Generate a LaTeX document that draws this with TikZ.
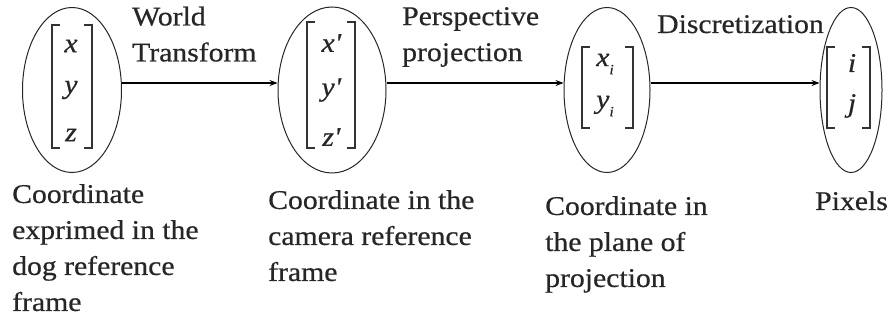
\documentclass[tikz,border=0pt]{standalone}
\usepackage{fontspec}
\setmainfont{Liberation Serif}[FakeStretch=1.1,FakeBold=0.6]
\usetikzlibrary{arrows.meta,calc,shapes.geometric}
\begin{document}
\begin{tikzpicture}[x=1pt,y=-1pt,
  vec/.style={draw=black!85,line width=1pt,ellipse,inner sep=0pt},
  brk/.style={draw=black!80,line width=1.4pt},
  ent/.style={inner sep=0pt,font=\fontsize{27}{30}\selectfont\itshape,text=black!85},
  lbl/.style={inner sep=0pt,align=left,anchor=north west,font=\fontsize{27}{36}\selectfont,text=black!85},
  flow/.style={draw=black,line width=1.1pt,-{Stealth[length=8pt,width=6pt]}}]
\useasboundingbox (0,0) rectangle (891,320);
% ellipses
\node[vec,minimum width=99pt,minimum height=165pt] (e1) at (72,90) {};
\node[vec,minimum width=108pt,minimum height=166pt] (e2) at (332,90) {};
\node[vec,minimum width=86pt,minimum height=165pt] (e3) at (607,90) {};
\node[vec,minimum width=62pt,minimum height=165pt] (e4) at (851,90) {};
% brackets
\draw[brk] (60,25) -- (52,25) -- (52,148) -- (60,148);
\draw[brk] (84,25) -- (92,25) -- (92,148) -- (84,148);
\draw[brk] (315,22) -- (307,22) -- (307,148) -- (315,148);
\draw[brk] (347,22) -- (355,22) -- (355,148) -- (347,148);
\draw[brk] (590,47) -- (582,47) -- (582,128) -- (590,128);
\draw[brk] (625,47) -- (633,47) -- (633,128) -- (625,128);
\draw[brk] (835,47) -- (827,47) -- (827,128) -- (835,128);
\draw[brk] (862,47) -- (870,47) -- (870,128) -- (862,128);
% entries
\node[ent] (a1) at (71,46) {x};
\node[ent] (a2) at (71,90) {y};
\node[ent] (a3) at (71,135) {z};
\node[ent] (b1) at (331,43) {x\textquotesingle};
\node[ent] (b2) at (331,90) {y\textquotesingle};
\node[ent] (b3) at (331,137) {z\textquotesingle};
\node[ent] (c1) at (605,64) {x\raisebox{-0.3em}{\fontsize{14}{14}\selectfont i}};
\node[ent] (c2) at (605,106) {y\raisebox{-0.3em}{\fontsize{14}{14}\selectfont i}};
\node[ent] (d1) at (852,63) {i};
\node[ent] (d2) at (852,106) {j};
% arrows
\draw[flow] ($(e1.east)+(0,-7)$) -- ($(e2.west)+(0,-7)$);
\draw[flow] ($(e2.east)+(0,-7)$) -- ($(e3.west)+(0,-7)$);
\draw[flow] ($(e3.east)+(0,-7)$) -- ($(e4.west)+(0,-7)$);
% arrow labels
\node[lbl] (t1) at (132,6.5) {World\\Transform};
\node[lbl] (t2) at (402,7) {Perspective\\projection};
\node[lbl,anchor=base west] (t3) at (657,33) {Discretization};
% bottom labels
\node[lbl] (l1) at (12,184) {Coordinate\\exprimed in the\\dog reference\\frame};
\node[lbl] (l2) at (268,190) {Coordinate in the\\camera reference\\frame};
\node[lbl] (l3) at (545,196) {Coordinate in\\the plane of\\projection};
\node[lbl,anchor=base west] (l4) at (815,210) {Pixels};
\end{tikzpicture}
\end{document}
